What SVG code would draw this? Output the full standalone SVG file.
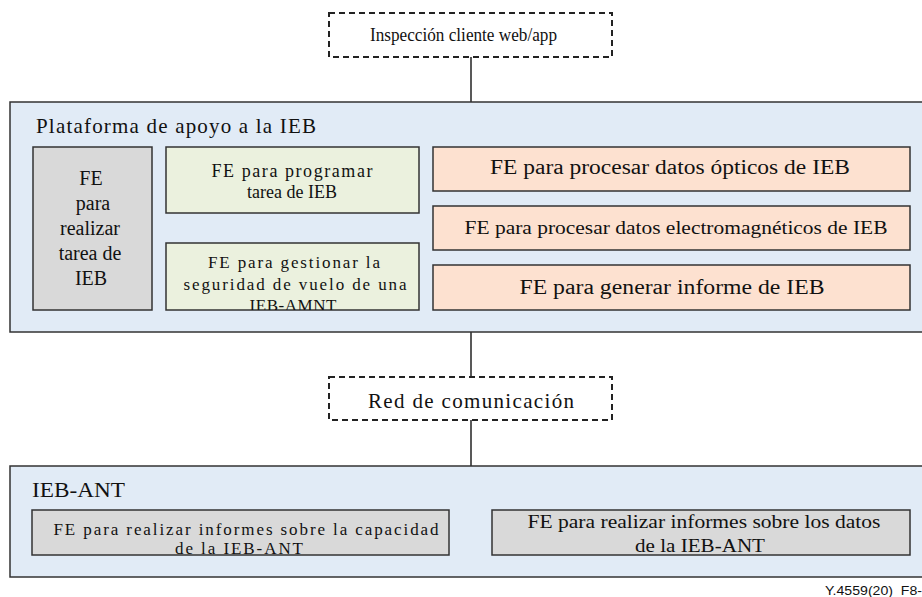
<svg xmlns="http://www.w3.org/2000/svg" width="922" height="597" viewBox="0 0 922 597">
<style>
text{font-family:Liberation Serif,Times New Roman,Times,serif;fill:#111}
.c{text-anchor:middle}
.box{stroke:#333;stroke-width:1.5}
.plat{fill:#e1ebf6}
.grey{fill:#d9d9d9}
.green{fill:#ebf1de}
.orange{fill:#fde1d0}
.dash{fill:#fff;stroke:#222;stroke-width:2;stroke-dasharray:6,4}
.ln{stroke:#222;stroke-width:1.5;fill:none}
</style>
<defs>
<clipPath id="cg2"><rect x="166" y="243" width="253" height="67"/></clipPath>
<clipPath id="cb1"><rect x="32" y="510" width="417" height="45"/></clipPath>
</defs>
<g id="connectors">
<line class="ln" x1="471" y1="57" x2="471" y2="102"/>
<line class="ln" x1="471" y1="332" x2="471" y2="377"/>
<line class="ln" x1="471" y1="420" x2="471" y2="466"/>
</g>
<g id="inspeccion">
<rect class="dash" x="329" y="13" width="283" height="44"/>
<text x="370" y="41" font-size="18" textLength="187" lengthAdjust="spacingAndGlyphs">Inspección cliente web/app</text>
</g>
<g id="plataforma">
<rect class="box plat" x="10" y="102" width="914" height="230"/>
<text x="36" y="133" font-size="21" textLength="280" lengthAdjust="spacing">Plataforma de apoyo a la IEB</text>
</g>
<g id="fe-realizar">
<rect class="box grey" x="33" y="147" width="119" height="163"/>
<text class="c" font-size="20"><tspan x="91" y="185">FE</tspan><tspan x="93" y="210">para</tspan><tspan x="90" y="235">realizar</tspan><tspan x="90" y="260">tarea de</tspan><tspan x="91" y="285">IEB</tspan></text>
</g>
<g id="fe-programar">
<rect class="box green" x="166" y="147" width="253" height="66"/>
<text class="c" font-size="18"><tspan x="292" y="177" textLength="161" lengthAdjust="spacing">FE para programar</tspan><tspan x="292" y="198">tarea de IEB</tspan></text>
</g>
<g id="fe-gestionar">
<rect class="box green" x="166" y="243" width="253" height="67"/>
<text class="c" font-size="17" clip-path="url(#cg2)"><tspan x="294" y="268" textLength="172" lengthAdjust="spacing">FE para gestionar la</tspan><tspan x="295" y="290" textLength="223" lengthAdjust="spacing">seguridad de vuelo de una</tspan><tspan x="293" y="311" textLength="87" lengthAdjust="spacing">IEB-AMNT</tspan></text>
</g>
<g id="fe-opticos">
<rect class="box orange" x="433" y="147" width="477" height="44"/>
<text class="c" x="670" y="174" font-size="20" textLength="360" lengthAdjust="spacingAndGlyphs">FE para procesar datos ópticos de IEB</text>
</g>
<g id="fe-electro">
<rect class="box orange" x="433" y="206" width="477" height="44"/>
<text class="c" x="676" y="234" font-size="19" textLength="423" lengthAdjust="spacingAndGlyphs">FE para procesar datos electromagnéticos de IEB</text>
</g>
<g id="fe-informe">
<rect class="box orange" x="433" y="265" width="477" height="45"/>
<text class="c" x="672" y="294" font-size="20" textLength="305" lengthAdjust="spacingAndGlyphs">FE para generar informe de IEB</text>
</g>
<g id="red">
<rect class="dash" x="329" y="377" width="283" height="43"/>
<text class="c" x="471" y="408" font-size="21" textLength="206" lengthAdjust="spacing">Red de comunicación</text>
</g>
<g id="ieb-ant">
<rect class="box plat" x="10" y="466" width="914" height="111"/>
<text x="32" y="497" font-size="21" textLength="93" lengthAdjust="spacingAndGlyphs">IEB-ANT</text>
</g>
<g id="fe-capacidad">
<rect class="box grey" x="32" y="510" width="417" height="45"/>
<text class="c" font-size="17" clip-path="url(#cb1)"><tspan x="246" y="535" textLength="385" lengthAdjust="spacing">FE para realizar informes sobre la capacidad</tspan><tspan x="239" y="554" textLength="128" lengthAdjust="spacing">de la IEB-ANT</tspan></text>
</g>
<g id="fe-datos">
<rect class="box grey" x="492" y="510" width="418" height="45"/>
<text class="c" font-size="19"><tspan x="704" y="528" textLength="353" lengthAdjust="spacingAndGlyphs">FE para realizar informes sobre los datos</tspan><tspan x="700" y="552" textLength="130" lengthAdjust="spacingAndGlyphs">de la IEB-ANT</tspan></text>
</g>
<text x="825" y="595" style="font-family:Liberation Sans,Arial,sans-serif" font-size="12" fill="#222" textLength="97" lengthAdjust="spacingAndGlyphs">Y.4559(20)_F8-</text>
</svg>
